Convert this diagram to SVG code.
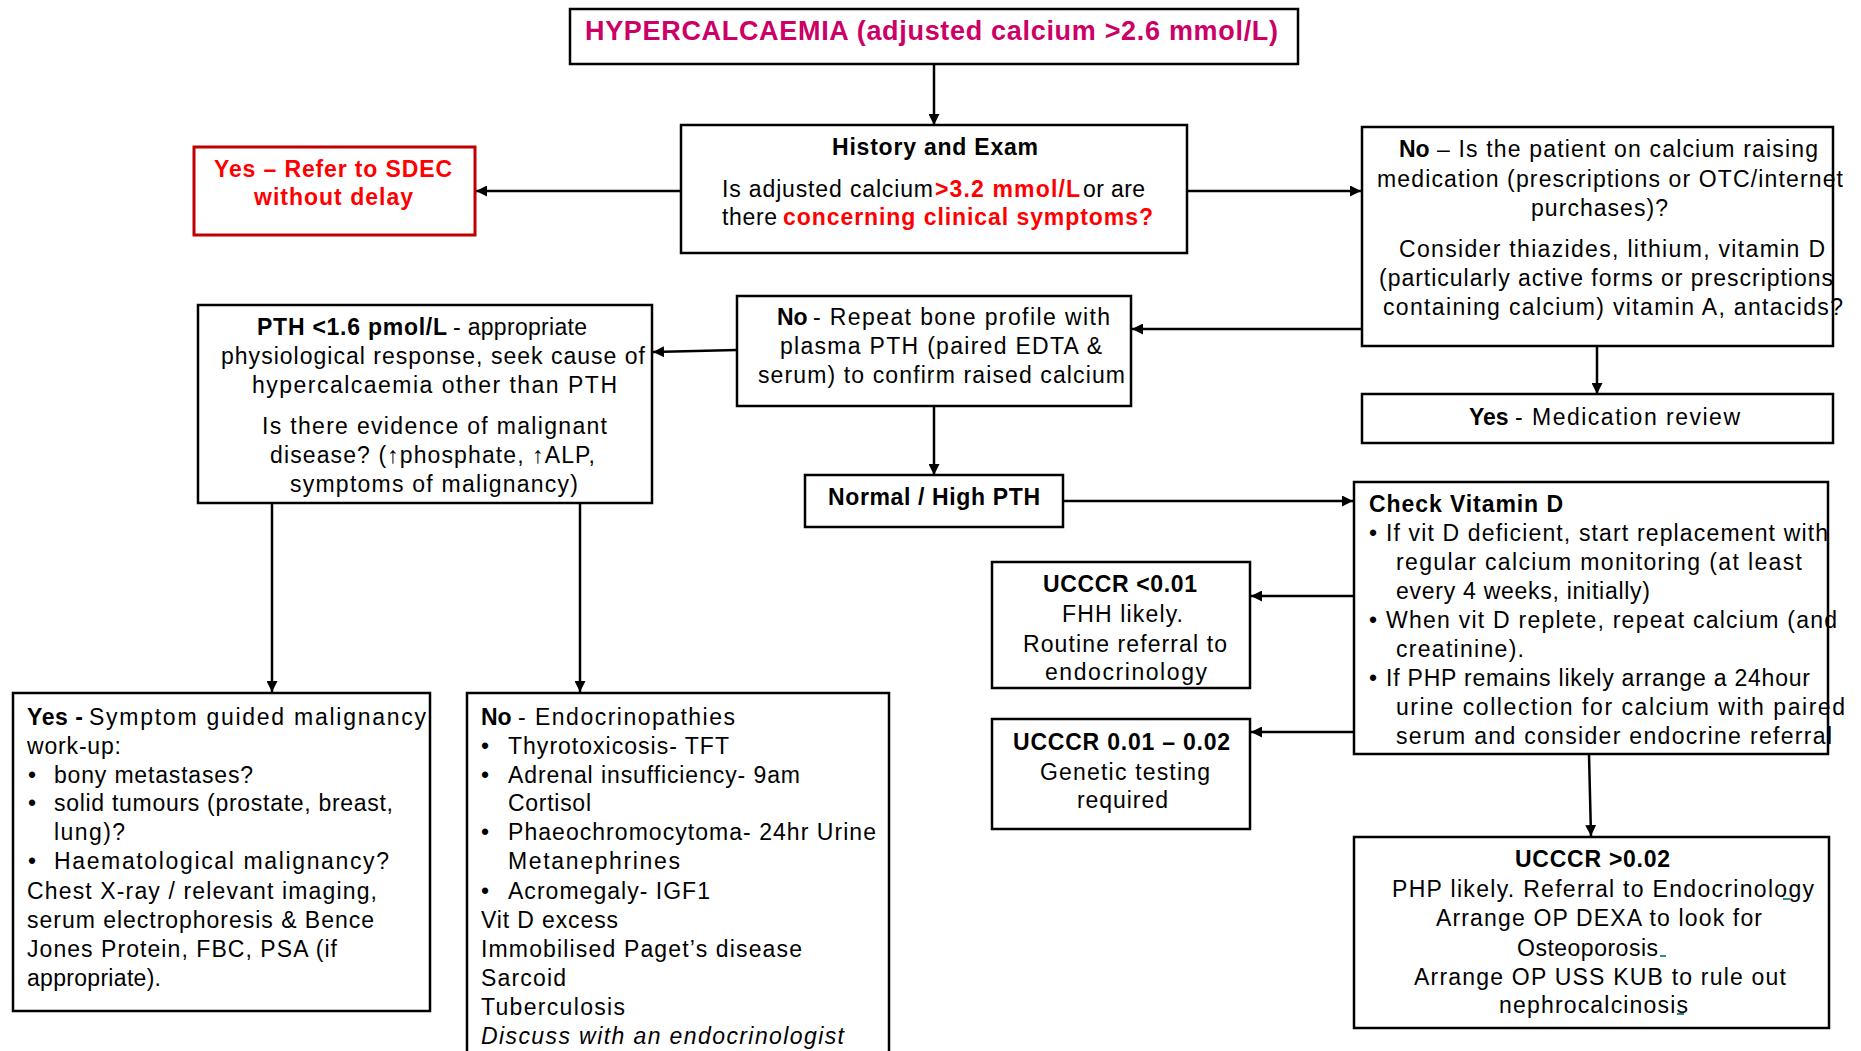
<svg xmlns="http://www.w3.org/2000/svg" width="1861" height="1051" viewBox="0 0 1861 1051">
<style>
  .box { fill: #fff; stroke: #000; stroke-width: 2.5; }
  .red-box { fill: #fff; stroke: #C00000; stroke-width: 3; }
  text { font-family: "Liberation Sans", Arial, sans-serif; font-size: 23px; fill: #000; }
  .b { font-weight: bold; }
  .i { font-style: italic; }
  .red { fill: #FF0000; }
  .mid { text-anchor: middle; }
  .title { font-size: 27px; font-weight: bold; fill: #CC0066; }
  .conn { fill: none; stroke: #000; stroke-width: 2.5; }
  .mark { fill: #2E8B8B; }
</style>
<defs>
  <marker id="arrow" viewBox="0 0 10 10" refX="10" refY="5" markerWidth="11" markerHeight="11" markerUnits="userSpaceOnUse" orient="auto">
    <path d="M0,0 L10,5 L0,10 z" fill="#000"/>
  </marker>
</defs>
<rect width="1861" height="1051" fill="#fff"/>

<g id="connectors">
  <path class="conn" marker-end="url(#arrow)" d="M934,64 L934,125"/>
  <path class="conn" marker-end="url(#arrow)" d="M681,191 L476,191"/>
  <path class="conn" marker-end="url(#arrow)" d="M1187,191 L1361,191"/>
  <path class="conn" marker-end="url(#arrow)" d="M1597,346 L1597,394"/>
  <path class="conn" marker-end="url(#arrow)" d="M1362,329 L1132,329"/>
  <path class="conn" marker-end="url(#arrow)" d="M737,350 L653,352"/>
  <path class="conn" marker-end="url(#arrow)" d="M934,406 L934,475"/>
  <path class="conn" marker-end="url(#arrow)" d="M1063,501 L1353,501"/>
  <path class="conn" marker-end="url(#arrow)" d="M1354,596 L1251,596"/>
  <path class="conn" marker-end="url(#arrow)" d="M1354,732 L1251,732"/>
  <path class="conn" marker-end="url(#arrow)" d="M1589,754 L1591,836"/>
  <path class="conn" marker-end="url(#arrow)" d="M272,503 L272,692"/>
  <path class="conn" marker-end="url(#arrow)" d="M580,503 L580,692"/>
</g>

<g id="node-title">
  <rect class="box" x="570" y="9" width="728" height="55"/>
  <text class="title" x="585" y="40" textLength="693">HYPERCALCAEMIA (adjusted calcium &gt;2.6 mmol/L)</text>
</g>

<g id="node-history">
  <rect class="box" x="681" y="125" width="506" height="128"/>
  <text class="b" x="832" y="155" textLength="206">History and Exam</text>
  <text x="722" y="197" textLength="211">Is adjusted calcium</text>
  <text class="b red" x="935" y="197" textLength="145">&gt;3.2 mmol/L</text>
  <text x="1083" y="197" textLength="62">or are</text>
  <text x="722" y="225" textLength="55">there</text>
  <text class="b red" x="783" y="225" textLength="370">concerning clinical symptoms?</text>
</g>

<g id="node-sdec">
  <rect class="red-box" x="194" y="147" width="281" height="88"/>
  <text class="b red" x="214" y="177" textLength="238">Yes – Refer to SDEC</text>
  <text class="b red" x="254" y="205" textLength="159">without delay</text>
</g>

<g id="node-medication-question">
  <rect class="box" x="1362" y="127" width="471" height="219"/>
  <text class="b" x="1399" y="157">No</text>
  <text x="1437" y="157" textLength="381">– Is the patient on calcium raising</text>
  <text x="1377" y="187" textLength="466">medication (prescriptions or OTC/internet</text>
  <text x="1531" y="216" textLength="137">purchases)?</text>
  <text x="1399" y="257" textLength="426">Consider thiazides, lithium, vitamin D</text>
  <text x="1379" y="286" textLength="454">(particularly active forms or prescriptions</text>
  <text x="1383" y="315" textLength="460">containing calcium) vitamin A, antacids?</text>
</g>

<g id="node-medication-review">
  <rect class="box" x="1362" y="394" width="471" height="49"/>
  <text class="b" x="1469" y="425">Yes</text>
  <text x="1515" y="425" textLength="225">- Medication review</text>
</g>

<g id="node-repeat">
  <rect class="box" x="737" y="296" width="394" height="110"/>
  <text class="b" x="777" y="325">No</text>
  <text x="813" y="325" textLength="297">- Repeat bone profile with</text>
  <text x="780" y="354" textLength="322">plasma PTH (paired EDTA &amp;</text>
  <text x="758" y="383" textLength="367">serum) to confirm raised calcium</text>
</g>

<g id="node-pth-low">
  <rect class="box" x="198" y="305" width="454" height="198"/>
  <text class="b" x="257" y="335" textLength="190">PTH &lt;1.6 pmol/L</text>
  <text x="453" y="335" textLength="134">- appropriate</text>
  <text x="221" y="364" textLength="424">physiological response, seek cause of</text>
  <text x="252" y="393" textLength="365">hypercalcaemia other than PTH</text>
  <text x="262" y="434" textLength="345">Is there evidence of malignant</text>
  <text x="270" y="463" textLength="325">disease? (↑phosphate, ↑ALP,</text>
  <text x="290" y="492" textLength="288">symptoms of malignancy)</text>
</g>

<g id="node-normal-high">
  <rect class="box" x="805" y="475" width="258" height="52"/>
  <text class="b" x="828" y="505" textLength="212">Normal / High PTH</text>
</g>

<g id="node-vitamin-d">
  <rect class="box" x="1354" y="482" width="474" height="272"/>
  <text class="b" x="1369" y="512" textLength="194">Check Vitamin D</text>
  <text x="1369" y="541">•</text>
  <text x="1386" y="541" textLength="442">If vit D deficient, start replacement with</text>
  <text x="1396" y="570" textLength="406">regular calcium monitoring (at least</text>
  <text x="1396" y="599" textLength="254">every 4 weeks, initially)</text>
  <text x="1369" y="628">•</text>
  <text x="1386" y="628" textLength="451">When vit D replete, repeat calcium (and</text>
  <text x="1396" y="657" textLength="128">creatinine).</text>
  <text x="1369" y="686">•</text>
  <text x="1386" y="686" textLength="424">If PHP remains likely arrange a 24hour</text>
  <text x="1396" y="715" textLength="449">urine collection for calcium with paired</text>
  <text x="1396" y="744" textLength="436">serum and consider endocrine referral</text>
</g>

<g id="node-ucccr-low">
  <rect class="box" x="992" y="562" width="258" height="126"/>
  <text class="b" x="1043" y="592" textLength="154">UCCCR &lt;0.01</text>
  <text x="1062" y="622" textLength="121">FHH likely.</text>
  <text x="1023" y="652" textLength="204">Routine referral to</text>
  <text x="1045" y="680" textLength="162">endocrinology</text>
</g>

<g id="node-ucccr-mid">
  <rect class="box" x="992" y="719" width="258" height="110"/>
  <text class="b" x="1013" y="750" textLength="217">UCCCR 0.01 – 0.02</text>
  <text x="1040" y="780" textLength="170">Genetic testing</text>
  <text x="1077" y="808" textLength="91">required</text>
</g>

<g id="node-ucccr-high">
  <rect class="box" x="1354" y="837" width="475" height="191"/>
  <text class="b" x="1515" y="867" textLength="155">UCCCR &gt;0.02</text>
  <text x="1392" y="897" textLength="422">PHP likely. Referral to Endocrinology</text>
  <text x="1436" y="926" textLength="326">Arrange OP DEXA to look for</text>
  <text x="1517" y="956" textLength="141">Osteoporosis</text>
  <text x="1414" y="985" textLength="372">Arrange OP USS KUB to rule out</text>
  <text x="1499" y="1013" textLength="189">nephrocalcinosis</text>
  <rect class="mark" x="1783" y="898" width="7" height="2"/>
  <rect class="mark" x="1660" y="955" width="6" height="2"/>
  <rect class="mark" x="1677" y="1013" width="7" height="2"/>
</g>

<g id="node-malignancy">
  <rect class="box" x="13" y="693" width="417" height="318"/>
  <text class="b" x="27" y="725" textLength="56">Yes -</text>
  <text x="89" y="725" textLength="337">Symptom guided malignancy</text>
  <text x="27" y="754" textLength="94">work-up:</text>
  <text class="mid" x="32" y="783">•</text>
  <text x="54" y="783" textLength="199">bony metastases?</text>
  <text class="mid" x="32" y="811">•</text>
  <text x="54" y="811" textLength="339">solid tumours (prostate, breast,</text>
  <text x="54" y="840" textLength="71">lung)?</text>
  <text class="mid" x="32" y="869">•</text>
  <text x="54" y="869" textLength="335">Haematological malignancy?</text>
  <text x="27" y="899" textLength="350">Chest X-ray / relevant imaging,</text>
  <text x="27" y="928" textLength="347">serum electrophoresis &amp; Bence</text>
  <text x="27" y="957" textLength="310">Jones Protein, FBC, PSA (if</text>
  <text x="27" y="986" textLength="134">appropriate).</text>
</g>

<g id="node-endocrinopathies">
  <rect class="box" x="467" y="693" width="422" height="370"/>
  <text class="b" x="481" y="725">No</text>
  <text x="518" y="725" textLength="217">- Endocrinopathies</text>
  <text class="mid" x="485" y="754">•</text>
  <text x="508" y="754" textLength="221">Thyrotoxicosis- TFT</text>
  <text class="mid" x="485" y="783">•</text>
  <text x="508" y="783" textLength="292">Adrenal insufficiency- 9am</text>
  <text x="508" y="811" textLength="83">Cortisol</text>
  <text class="mid" x="485" y="840">•</text>
  <text x="508" y="840" textLength="368">Phaeochromocytoma- 24hr Urine</text>
  <text x="508" y="869" textLength="172">Metanephrines</text>
  <text class="mid" x="485" y="899">•</text>
  <text x="508" y="899" textLength="202">Acromegaly- IGF1</text>
  <text x="481" y="928" textLength="137">Vit D excess</text>
  <text x="481" y="957" textLength="321">Immobilised Paget’s disease</text>
  <text x="481" y="986" textLength="85">Sarcoid</text>
  <text x="481" y="1015" textLength="144">Tuberculosis</text>
  <text class="i" x="481" y="1044" textLength="363">Discuss with an endocrinologist</text>
</g>
</svg>
